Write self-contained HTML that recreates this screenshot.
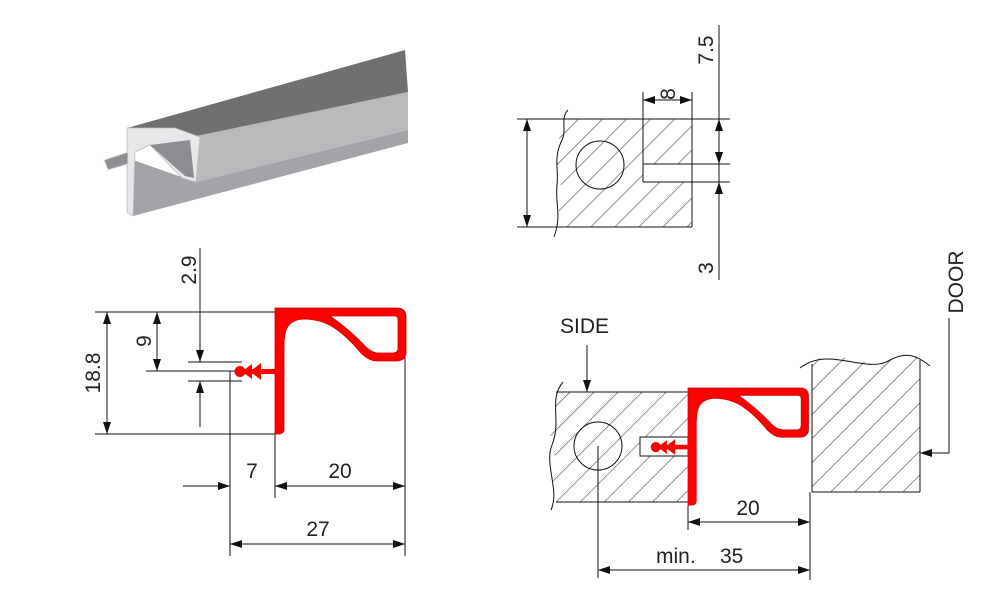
<!DOCTYPE html>
<html><head><meta charset="utf-8"><style>
html,body{margin:0;padding:0;background:#fff}
svg{display:block}
text{font-family:"Liberation Sans",sans-serif;font-size:21px;fill:#222}
</style></head><body>
<svg width="1000" height="600" viewBox="0 0 1000 600" xmlns="http://www.w3.org/2000/svg">
<defs>
<pattern id="h" patternUnits="userSpaceOnUse" width="17" height="17" patternTransform="rotate(45)">
<line x1="0" y1="0" x2="0" y2="17" stroke="#333" stroke-width="1.1"/>
</pattern>
<marker id="a" viewBox="0 0 12 8" refX="12" refY="4" markerWidth="12" markerHeight="8" orient="auto-start-reverse" markerUnits="userSpaceOnUse">
<path d="M0,0 L12,4 L0,8 Z" fill="#111"/></marker>
<g id="prof">
<path fill-rule="evenodd" fill="#f00" stroke="#c00" stroke-width="0.8" d="M0,0 H122 Q131,0 131,9 V44 Q131,53 121,53 H102 Q94,53 86,45 Q72,28 58,19 Q45,11 28,11 Q16,12 12,20 Q9,26 9,38 L9,121 Q9,126 3,126 H0 Z M55,8 H120 Q123,8 123,12 V40 Q123,45 118,45 H104 Q97,45 91,39 Q75,22 55,8 Z"/>
<rect x="-28" y="61" width="30" height="5" fill="#f00"/>
<path d="M-14,55 L-25,63.5 L-14,72 Z M-23,56 L-33,63.5 L-23,71 Z" fill="#f00"/>
<circle cx="-35" cy="63.5" r="5.5" fill="#f00"/>
</g>
</defs>

<!-- 3D profile -->
<polygon points="127,128 405,50 408,92 200,137 175,128" fill="#707073"/>
<polygon points="196,136 408,92 408,130 196,182" fill="#b9babc"/>
<polygon points="133,160 196,182 408,130 408,143 133,216" fill="#a3a4a7"/>
<polygon points="127,128 175,128 200,137 196,182 182,178 150,145 135,152 133,216 127,212" fill="#e6e7e9" stroke="#bbb" stroke-width="0.8"/>
<polygon points="150,145 190,140 194,178 185,176" fill="#8c8d90"/>
<polygon points="104,160 128,152 128,164 108,170" fill="#8e8f92" stroke="#ddd" stroke-width="1"/>

<!-- Left drawing -->
<g stroke="#111" stroke-width="1" fill="none">
<line x1="95" y1="312" x2="275" y2="312"/>
<line x1="95" y1="434" x2="275" y2="434"/>
<line x1="107" y1="312" x2="107" y2="434" marker-start="url(#a)" marker-end="url(#a)"/>
<line x1="157" y1="312" x2="157" y2="371" marker-start="url(#a)" marker-end="url(#a)"/>
<line x1="146" y1="371" x2="240" y2="371"/>
<line x1="188" y1="362" x2="242" y2="362"/>
<line x1="188" y1="381" x2="242" y2="381"/>
<line x1="200" y1="248" x2="200" y2="362" marker-end="url(#a)"/>
<line x1="200" y1="427" x2="200" y2="381" marker-end="url(#a)"/>
<line x1="230" y1="371" x2="230" y2="556"/>
<line x1="275" y1="434" x2="275" y2="498"/>
<line x1="405" y1="318" x2="405" y2="556"/>
<line x1="183" y1="486" x2="230" y2="486" marker-end="url(#a)"/>
<line x1="275" y1="486" x2="405" y2="486" marker-start="url(#a)" marker-end="url(#a)"/>
<line x1="230" y1="544" x2="405" y2="544" marker-start="url(#a)" marker-end="url(#a)"/>
</g>
<use href="#prof" transform="translate(275,308)"/>
<text transform="translate(100,373) rotate(-90)" text-anchor="middle">18.8</text>
<text transform="translate(151,341) rotate(-90)" text-anchor="middle">9</text>
<text transform="translate(196,270) rotate(-90)" text-anchor="middle">2.9</text>
<text x="252" y="478" text-anchor="middle">7</text>
<text x="340" y="478" text-anchor="middle">20</text>
<text x="318" y="536" text-anchor="middle">27</text>

<!-- Top right drawing -->
<clipPath id="c1"><path d="M562,119 H692 V227 H560 C556,200 566,185 557,165 C552,145 566,130 562,119 Z"/></clipPath>
<g clip-path="url(#c1)"><rect x="540" y="100" width="160" height="140" fill="url(#h)"/></g>
<rect x="643" y="164" width="60" height="18" fill="#fff"/>
<g stroke="#111" stroke-width="1" fill="none">
<path d="M568,110 C560,118 567,130 562,140 C553,158 559,170 557,185 C555,205 562,215 554,237"/>
<line x1="517" y1="119" x2="730" y2="119"/>
<line x1="517" y1="227" x2="692" y2="227"/>
<line x1="692" y1="92" x2="692" y2="227"/>
<line x1="643" y1="92" x2="643" y2="182"/>
<line x1="643" y1="164" x2="730" y2="164"/>
<line x1="643" y1="182" x2="730" y2="182"/>
<line x1="527" y1="119" x2="527" y2="227" marker-start="url(#a)" marker-end="url(#a)"/>
<line x1="668" y1="100" x2="643" y2="100" marker-end="url(#a)"/>
<line x1="668" y1="100" x2="692" y2="100" marker-end="url(#a)"/>
<circle cx="600" cy="165" r="24"/>
<line x1="719" y1="25" x2="719" y2="280"/>
<line x1="719" y1="140" x2="719" y2="119" marker-end="url(#a)"/>
<line x1="719" y1="140" x2="719" y2="164" marker-end="url(#a)"/>
<line x1="719" y1="205" x2="719" y2="182" marker-end="url(#a)"/>
</g>
<text transform="translate(675,94) rotate(-90)" text-anchor="middle">8</text>
<text transform="translate(713,50) rotate(-90)" text-anchor="middle">7.5</text>
<text transform="translate(713,268) rotate(-90)" text-anchor="middle">3</text>

<!-- Bottom right drawing -->
<clipPath id="c2"><path d="M556,392 H688 V502 H556 C548,480 560,465 552,445 C546,425 560,410 556,392 Z"/></clipPath>
<g clip-path="url(#c2)"><rect x="540" y="380" width="160" height="130" fill="url(#h)"/></g>
<rect x="640" y="437" width="48" height="19" fill="#fff" stroke="#111" stroke-width="1"/>
<clipPath id="c3"><path d="M812,362 C840,345 865,372 890,360 C905,353 914,353 920,360 V492 H812 Z"/></clipPath>
<g clip-path="url(#c3)"><rect x="800" y="340" width="130" height="160" fill="url(#h)"/></g>
<g stroke="#111" stroke-width="1" fill="none">
<path d="M563,382 C548,400 562,420 552,445 C544,465 560,490 551,510"/>
<line x1="556" y1="392" x2="688" y2="392"/>
<line x1="556" y1="502" x2="688" y2="502"/>
<line x1="587" y1="345" x2="587" y2="392" marker-end="url(#a)"/>
<circle cx="598" cy="446" r="24"/>
<path d="M800,368 C830,345 865,375 890,360 C905,352 915,354 930,366"/>
<line x1="812" y1="364" x2="812" y2="492"/>
<line x1="920" y1="360" x2="920" y2="492"/>
<line x1="812" y1="492" x2="920" y2="492"/>
<polyline points="949,318 949,453 920,453" marker-end="url(#a)"/>
<line x1="688" y1="505" x2="688" y2="530"/>
<line x1="810" y1="492" x2="810" y2="580"/>
<line x1="688" y1="522" x2="810" y2="522" marker-start="url(#a)" marker-end="url(#a)"/>
<line x1="598" y1="446" x2="598" y2="578"/>
<line x1="598" y1="570" x2="810" y2="570" marker-start="url(#a)" marker-end="url(#a)"/>
</g>
<use href="#prof" transform="translate(688,388) scale(0.92,0.93)"/>
<text x="560" y="333">SIDE</text>
<text transform="translate(963,282) rotate(-90)" text-anchor="middle">DOOR</text>
<text x="748" y="515" text-anchor="middle">20</text>
<text x="656" y="563">min.</text>
<text x="720" y="563">35</text>
</svg>
</body></html>
